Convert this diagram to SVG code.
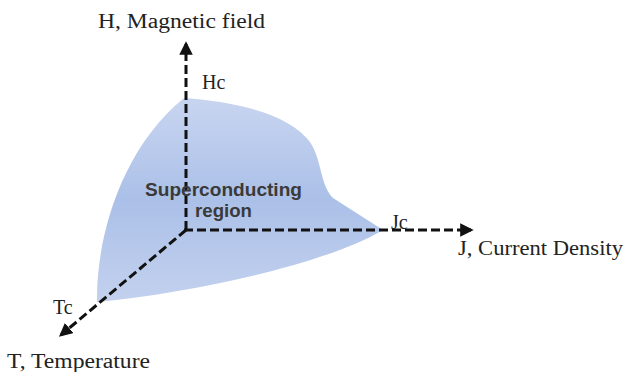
<svg xmlns="http://www.w3.org/2000/svg" width="628" height="372" viewBox="0 0 628 372">
<style>
.lbl{font-family:"Liberation Serif","Times New Roman",serif;font-size:20px;fill:#222}
.reg{font-family:"Liberation Sans",Arial,sans-serif;font-size:18px;font-weight:bold;fill:#3a3a3a}
.axis{stroke:#111;stroke-width:3;stroke-dasharray:9 4;fill:none}
</style>
<defs>
<linearGradient id="g" x1="0" y1="0" x2="0" y2="1">
<stop offset="0" stop-color="#c8d5f0"/>
<stop offset="0.5" stop-color="#abc0e8"/>
<stop offset="1" stop-color="#c3d1ee"/>
</linearGradient>
<marker id="ah" viewBox="0 0 10 10" refX="8" refY="5" markerWidth="4.5" markerHeight="4.5" orient="auto" markerUnits="strokeWidth">
<path d="M0,0 L10,5 L0,10 z" fill="#111"/>
</marker>
</defs>
<g id="region">
<path d="M184,98 C240,102 290,115 310,142 C322,160 320,185 333,198 L383,230 C330,262 200,292 97,302 C96,240 120,150 184,98 Z" fill="url(#g)"/>
</g>
<g id="connectors">
<line class="axis" x1="186" y1="230" x2="186" y2="44" marker-end="url(#ah)"/>
<line class="axis" x1="184" y1="230" x2="471" y2="230" marker-end="url(#ah)"/>
<line class="axis" x1="186" y1="230" x2="61" y2="335" marker-end="url(#ah)"/>
</g>
<g id="labels">
<text class="lbl" x="98" y="28" textLength="167" lengthAdjust="spacingAndGlyphs">H, Magnetic field</text>
<text class="lbl" x="202" y="89">Hc</text>
<text class="lbl" x="391" y="229">Jc</text>
<text class="lbl" x="458" y="255" textLength="165" lengthAdjust="spacingAndGlyphs">J, Current Density</text>
<text class="lbl" x="53" y="314">Tc</text>
<text class="lbl" x="7" y="368" textLength="143" lengthAdjust="spacingAndGlyphs">T, Temperature</text>
<text class="reg" x="145" y="196" textLength="157" lengthAdjust="spacingAndGlyphs">Superconducting</text>
<text class="reg" x="195" y="217" textLength="57" lengthAdjust="spacingAndGlyphs">region</text>
</g>
</svg>
